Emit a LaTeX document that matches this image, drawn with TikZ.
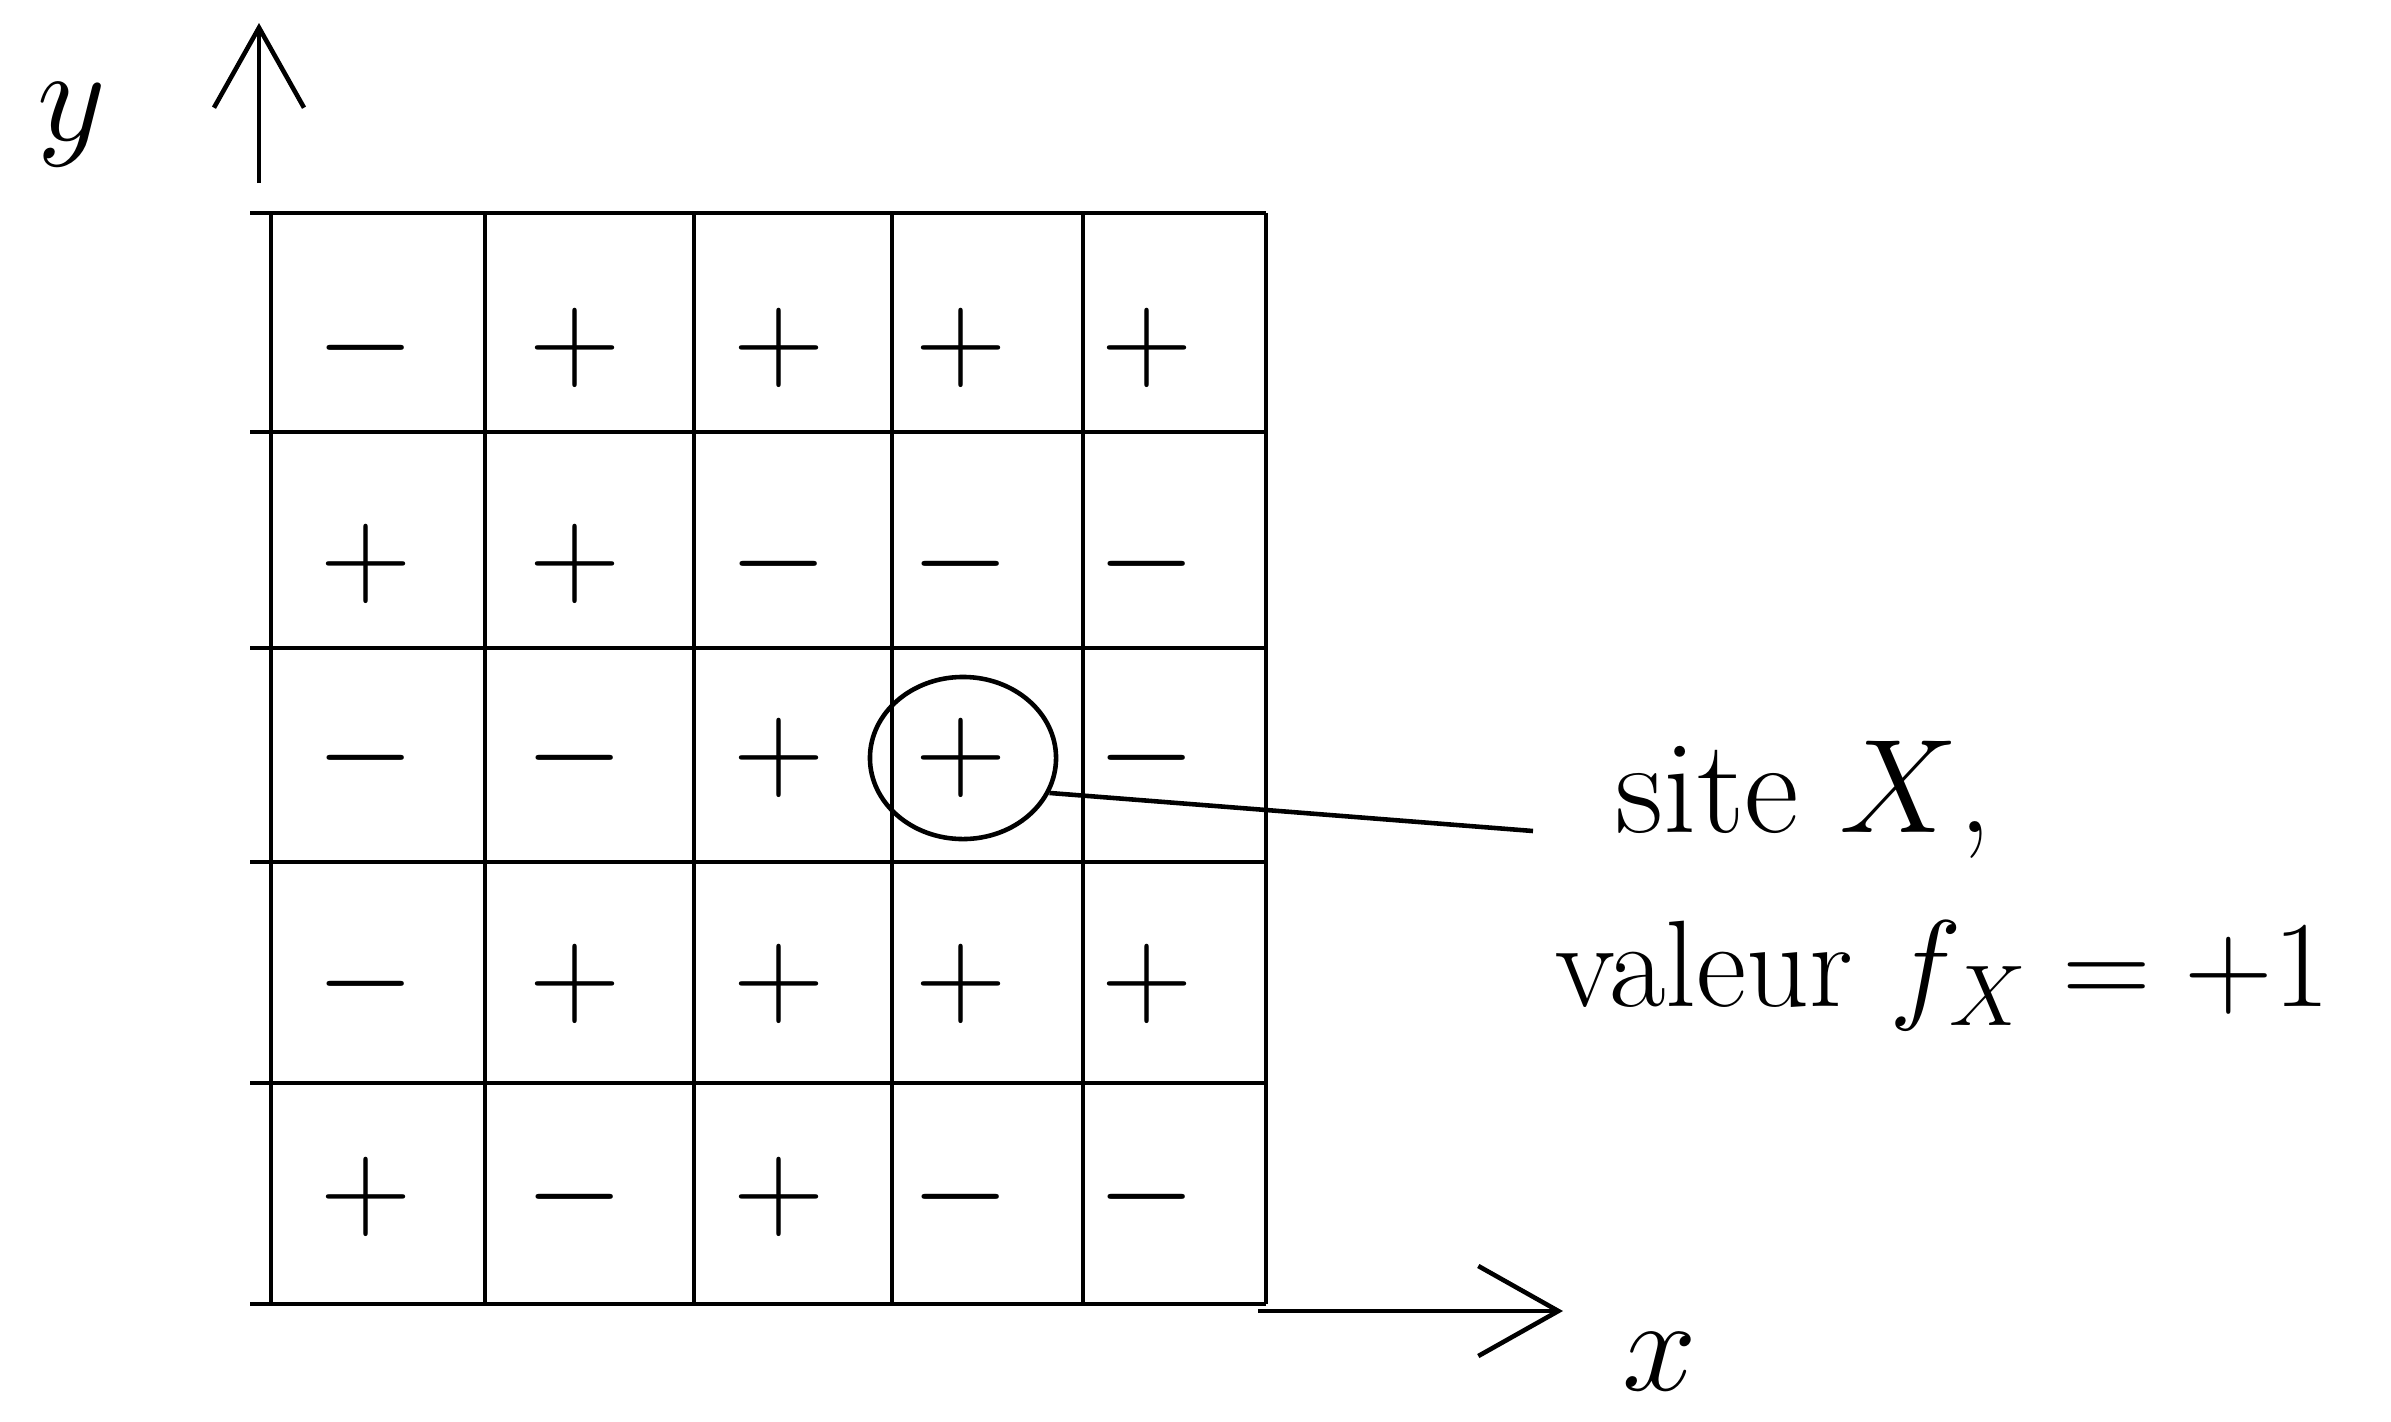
\RequirePackage{fix-cm}
\documentclass[tikz,border=0pt]{standalone}
\usetikzlibrary{arrows.meta,shapes.geometric}
\begin{document}
\begin{tikzpicture}[x=0.01cm,y=-0.01cm,
  gridline/.style={line width=1.3pt},
  sign/.style={font=\fontsize{36}{42}\selectfont, inner sep=0pt},
  lbl/.style={font=\fontsize{38}{46}\selectfont, inner sep=0pt},
  lblsmall/.style={font=\fontsize{35}{42}\selectfont, inner sep=0pt},
  axis/.style={line width=1.3pt, -{Straight Barb[length=8mm,width=9mm,line width=1.3pt]}}]
\useasboundingbox (0,0) rectangle (2391,1421);
% grid
\foreach \xx in {271,485,694,892,1083,1266}
  \draw[gridline] (\xx,213) -- (\xx,1304);
\foreach \yy in {213,432,648,862,1083,1304}
  \draw[gridline] (250,\yy) -- (1266,\yy);
% signs
\def\cx{{366,575,779,961,1147}}
\def\cy{{348,564,758,984,1197}}
\foreach \r/\row in {0/{-,+,+,+,+},1/{+,+,-,-,-},2/{-,-,+,+,-},3/{-,+,+,+,+},4/{+,-,+,-,-}}{
  \foreach \s [count=\c from 0] in \row {
    \pgfmathsetmacro{\px}{\cx[\c]}
    \pgfmathsetmacro{\py}{\cy[\r]}
    \node[sign] (s\r\c) at (\px,\py) {$\s$};
  }
}
% highlighted site
\node[draw, ellipse, line width=1.3pt, inner sep=0pt,
      minimum width=1.86cm, minimum height=1.62cm] (site) at (963,758) {};
\coordinate (lineend) at (1533,831);
\draw[line width=1.3pt] (site.-22) -- (lineend);
\node[lbl, anchor=west] (t1) at (1615,800) {site $X$,};
\node[lblsmall, anchor=west] (t2) at (1555,976) {valeur $f_X = +1$};
% axes
\coordinate (ys) at (259,183);
\coordinate (ye) at (259,23);
\draw[axis] (ys) -- (ye);
\node[lbl] (ylab) at (72,125) {$y$};
\coordinate (xs) at (1258,1311);
\coordinate (xe) at (1563,1311);
\draw[axis] (xs) -- (xe);
\node[lbl] (xlab) at (1660,1362) {$x$};
\end{tikzpicture}
\end{document}
